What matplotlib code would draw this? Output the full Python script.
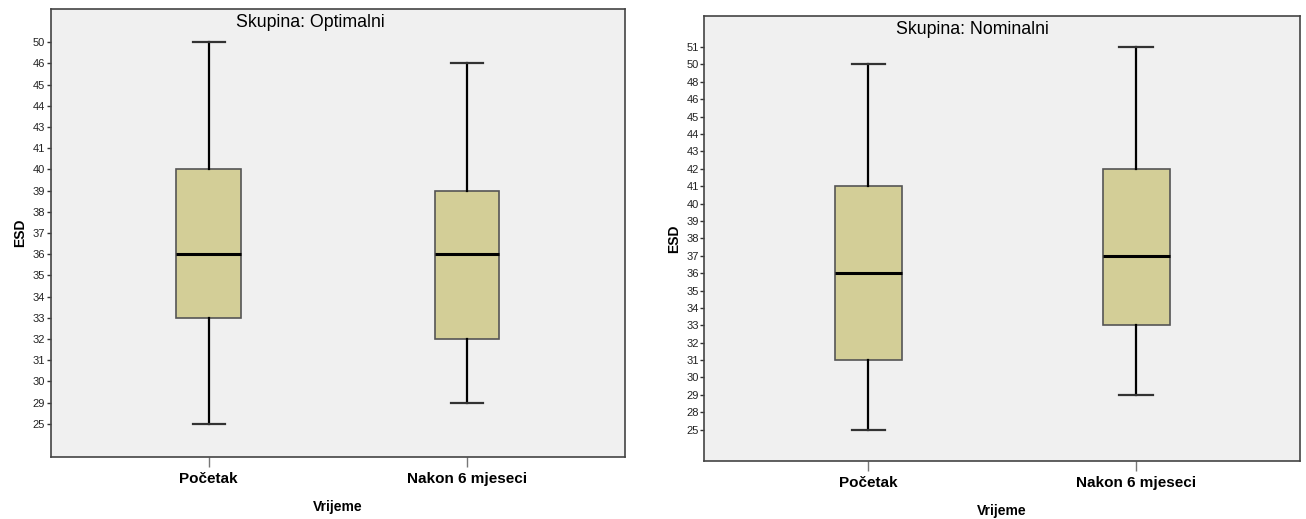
import numpy as np
import matplotlib
matplotlib.use("Agg")
from matplotlib import pyplot as plt

plt.rcParams['font.family'] = ['Liberation Sans', 'DejaVu Sans']

categories = ["Početak", "Nakon 6 mjeseci"]

# Skupina: Optimalni  (min, Q1, median, Q3, max)
opt_ticks = [25, 29, 30, 31, 32, 33, 34, 35, 36, 37, 38, 39, 40, 41, 43, 44, 45, 46, 50]
opt_pocetak = [25, 33, 36, 40, 50]
opt_nakon = [29, 32, 36, 39, 46]

# Skupina: Nominalni
nom_ticks = [25, 28, 29, 30, 31, 32, 33, 34, 35, 36, 37, 38, 39, 40, 41, 42, 43, 44, 45, 46, 48, 50, 51]
nom_pocetak = [25, 31, 36, 41, 50]
nom_nakon = [29, 33, 37, 42, 51]

box_color = "#d3ce97"
bg_color = "#f0f0f0"


def ordinal_scale(ticks):
    # SPSS draws the observed values evenly spaced, so map value -> rank
    t = np.array(ticks, dtype=float)
    idx = np.arange(len(t), dtype=float)
    t_ext = np.concatenate([[t[0] - 100], t, [t[-1] + 100]])
    i_ext = np.concatenate([[-100], idx, [idx[-1] + 100]])
    fwd = lambda v: np.interp(v, t_ext, i_ext)
    inv = lambda i: np.interp(i, i_ext, t_ext)
    return fwd, inv


def make_stats(vals, label):
    lo, q1, med, q3, hi = vals
    return dict(whislo=lo, q1=q1, med=med, q3=q3, whishi=hi, label=label, fliers=[])


def draw_panel(ax, ticks, groups, title, margin):
    fwd, inv = ordinal_scale(ticks)
    ax.set_yscale('function', functions=(fwd, inv))
    stats = [make_stats(g, c) for g, c in zip(groups, categories)]
    ax.bxp(stats, positions=[0, 1], widths=0.25, patch_artist=True,
           showfliers=False,
           boxprops=dict(facecolor=box_color, edgecolor="#555555", linewidth=1.2),
           medianprops=dict(color="black", linewidth=2.2),
           whiskerprops=dict(color="black", linewidth=1.6),
           capprops=dict(color="#333333", linewidth=1.6),
           capwidths=0.125)
    ax.set_facecolor(bg_color)
    ax.set_xlim(-0.612, 1.612)
    ax.set_ylim(inv(-margin), inv(len(ticks) - 1 + margin))
    ax.set_yticks(ticks)
    ax.set_yticklabels([str(t) for t in ticks], fontsize=8, color="#222222")
    ax.yaxis.set_minor_locator(matplotlib.ticker.NullLocator())
    ax.tick_params(axis='y', length=3, width=1, color="#333333", pad=1)
    ax.set_xticks([0, 1])
    ax.set_xticklabels(categories, fontsize=11, fontweight='bold')
    ax.tick_params(axis='x', length=7, width=1, color="#777777", pad=4)
    for s in ax.spines.values():
        s.set_color("#444444")
        s.set_linewidth(1.2)
    ax.set_xlabel("Vrijeme", fontsize=10, fontweight='bold', labelpad=10)
    ax.set_ylabel("ESD", fontsize=10, fontweight='bold', labelpad=4)
    ax.text(0.322, 0.988, title, transform=ax.transAxes, ha='left', va='top',
            fontsize=12.8)


fig = plt.figure(figsize=(13.06, 5.19), dpi=100)
ax1 = fig.add_axes([0.0388, 0.1195, 0.4398, 0.8632])
ax2 = fig.add_axes([0.5393, 0.1118, 0.4561, 0.8579])

draw_panel(ax1, opt_ticks, [opt_pocetak, opt_nakon], "Skupina: Optimalni", 1.57)
draw_panel(ax2, nom_ticks, [nom_pocetak, nom_nakon], "Skupina: Nominalni", 1.8)

plt.savefig("out.png", dpi=100)
